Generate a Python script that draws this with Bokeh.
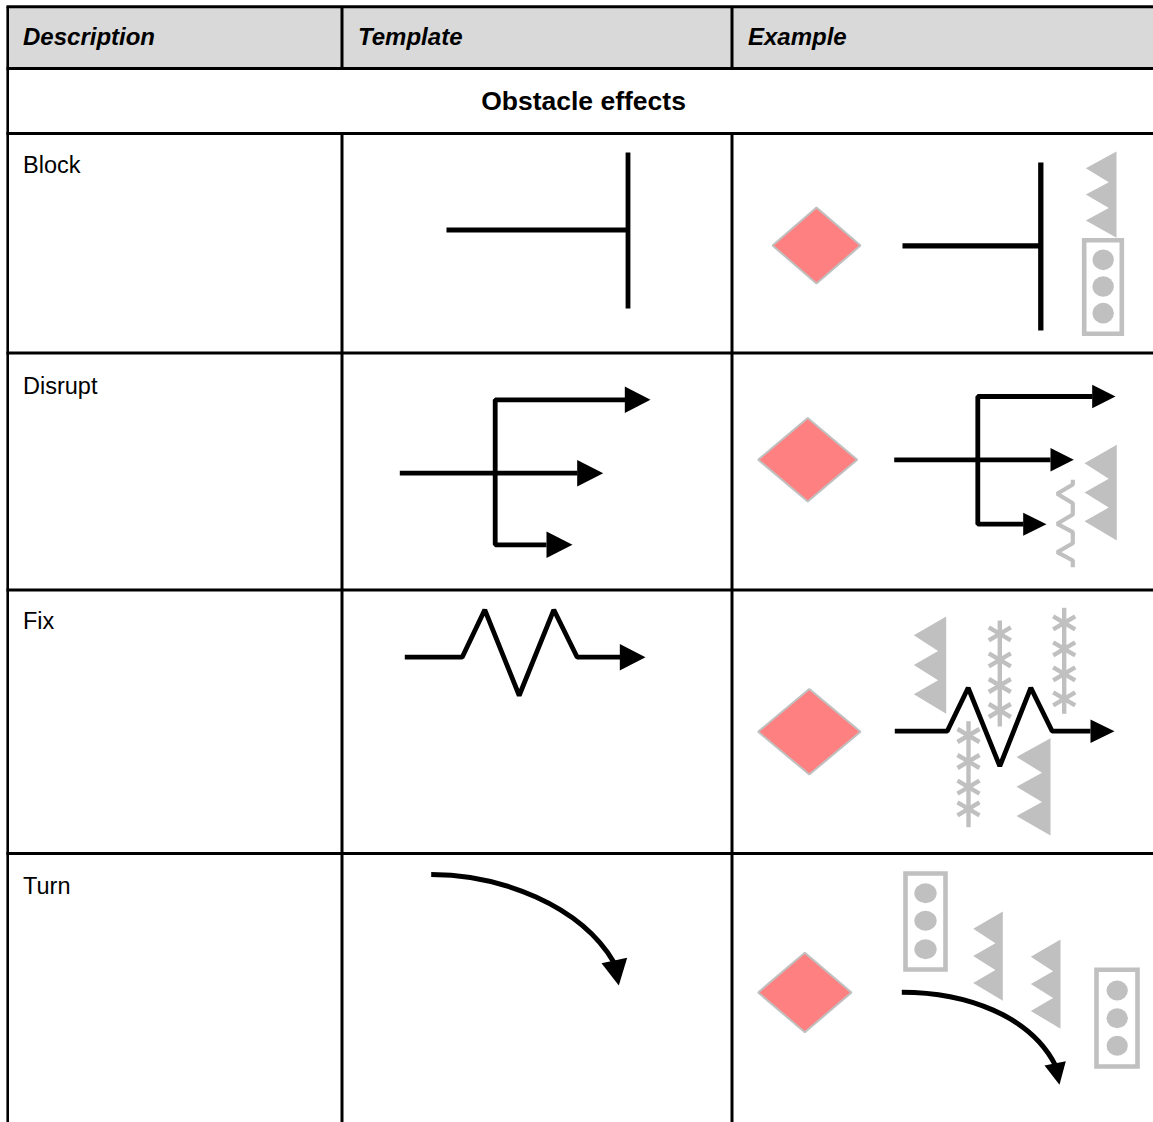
from bokeh.plotting import figure
from bokeh.models import Range1d
from bokeh.core.properties import value
from bokeh.embed import file_html
from bokeh.resources import INLINE

# ---- texts
headers = ["Description", "Template", "Example"]
header_x = [22.5, 357.5, 747.5]
section = "Obstacle effects"
rows = ["Block", "Disrupt", "Fix", "Turn"]
row_baselines = [164, 385, 620, 885]

# ---- table rules
h_rules = [6.3, 68, 133, 352.5, 589.5, 853]
col_rules = [341.5, 731.5]
left_rule = 7.2

# ---- diamonds: centre x, centre y, half width, half height
diamonds = [(816, 245, 44, 38), (807.2, 459.2, 49.5, 41.8),
            (808.8, 731.2, 51.2, 42.8), (804.3, 992, 46.7, 39.7)]

# ---- saw obstacles: left, right, top, bottom
saws = [(1085.3, 1116, 151, 237.3), (1084, 1116.3, 444.3, 540),
        (913.3, 945.7, 616, 713.3), (1016, 1050, 737.7, 835),
        (972.7, 1002.3, 911, 1000.3), (1030.3, 1060, 939, 1028.3)]
saw_x = [1, 0, 0.75, 0, 0.75, 0, 1]
saw_y = [0, 0.193, 0.355, 0.498, 0.656, 0.8, 1]

# ---- signal obstacles: left, right, top, bottom, lamp x, lamp ys, lamp w, lamp h
signals = [(1083.7, 1121.3, 239.8, 333.3, 1102.7, [259.3, 286, 312.7], 21.3, 20.7),
           (905, 945, 873, 969, 925, [892.7, 920.3, 948.7], 22.3, 20),
           (1096, 1137, 969.2, 1066, 1116.7, [990, 1017.7, 1045.3], 21.3, 20)]

# ---- asterisk columns: x, top, bottom, star centres
stars = [(999.3, 620, 726, [633.3, 659.3, 685, 710]),
         (1063.7, 607.3, 713.3, [622.3, 648.3, 673.3, 698.3]),
         (968, 720.7, 826.7, [735, 761, 786.7, 808.3])]

wave_x = [1072.3, 1072.3, 1056.7, 1072.3, 1072.3, 1056.7, 1072.3, 1072.3, 1056.7, 1072.3, 1072.3]
wave_y = [479.3, 484, 493.3, 502.7, 514, 523.3, 531.7, 542.7, 551.7, 560, 566.7]

# ---- black paths (x list, y list, width)
paths = [
    ([446, 627.5], [229.5, 229.5], 4.8),
    ([627.5, 627.5], [152, 308], 4.8),
    ([902, 1040.3], [245.3, 245.3], 5.3),
    ([1040.3, 1040.3], [162, 330], 5.3),
    ([625, 494.7, 494.7, 546], [399.3, 399.3, 544.3, 544.3], 4.8),
    ([399.3, 577], [472.7, 472.7], 4.8),
    ([1092, 977.3, 977.3, 1023], [396, 396, 523.7, 523.7], 4.8),
    ([893.7, 1050], [459.3, 459.3], 4.8),
    ([404.3, 461.7, 484.3, 518.7, 553.3, 576.7, 620], [656.7, 656.7, 609.3, 695, 609.3, 656.7, 656.7], 4.8),
    ([894.3, 946.7, 967.7, 999.3, 1030.3, 1051.7, 1090], [730.7, 730.7, 687.3, 765.7, 687.3, 730.7, 730.7], 4.8),
]
# ---- arrow heads: base x, tip x, y, half height
heads = [(624.3, 650, 399.3, 13.3), (576.7, 602.7, 472.7, 13.3), (546, 572, 544.3, 13.3),
         (619.3, 645, 656.7, 13.3), (1091.7, 1115, 396, 11.8), (1050, 1073.3, 459.3, 11.7),
         (1022.7, 1046, 523.7, 11.5), (1090, 1114, 730.7, 11.8)]
# ---- curves: x0, y0, cx0, cy0, cx1, cy1, x1, y1 and heads
curves = [(430.7, 874, 500, 874, 580, 905, 613.3, 961.7),
          (901.3, 991.7, 965, 991.7, 1030, 1015, 1055, 1065)]
curve_heads = [([601, 626.7, 618.3], [962.7, 957.3, 985]),
               ([1044, 1065.3, 1059], [1065, 1060.7, 1084.3])]

GREY = "#c0c0c0"
W, H = 1153, 1122
p = figure(width=W, height=H, output_backend="svg", toolbar_location=None,
           x_range=Range1d(0, W), y_range=Range1d(H, 0), min_border=0,
           margin=(0, 0, 0, 0))
p.axis.visible = False
p.grid.visible = False
p.outline_line_color = None

# header band
p.quad(left=[left_rule], right=[W], top=[h_rules[0]], bottom=[h_rules[1]],
       fill_color="#d9d9d9", line_color=None)

# rules
for y in h_rules:
    p.line([left_rule - 1.2, W], [y, y], line_color="black", line_width=3)
for x in col_rules:
    p.line([x, x], [h_rules[0], h_rules[1]], line_color="black", line_width=3)
    p.line([x, x], [h_rules[2], H], line_color="black", line_width=3)
p.line([left_rule, left_rule], [h_rules[0], H], line_color="black", line_width=2.6)

# obstacles
for l, r, t, b in saws:
    p.patch([l + (r - l) * f for f in saw_x], [t + (b - t) * f for f in saw_y],
            fill_color=GREY, line_color=None)
for l, r, t, b, lx, lys, lw, lh in signals:
    p.quad(left=[l], right=[r], top=[t], bottom=[b], fill_color="white", line_color=GREY, line_width=4.6,
           line_join="miter")
    p.ellipse(x=[lx] * 3, y=lys, width=lw, height=lh, fill_color=GREY, line_color=None)
for x, t, b, cs in stars:
    p.line([x, x], [t, b], line_color=GREY, line_width=4.4)
    for c in cs:
        p.line([x - 11, x + 11], [c - 6.5, c + 6.5], line_color=GREY, line_width=4.4)
        p.line([x - 11, x + 11], [c + 6.5, c - 6.5], line_color=GREY, line_width=4.4)
p.line(wave_x, wave_y, line_color=GREY, line_width=4.2)

# diamonds
for cx, cy, hw, hh in diamonds:
    p.patch([cx - hw, cx, cx + hw, cx], [cy, cy - hh, cy, cy + hh],
            fill_color="#ff8080", line_color=GREY, line_width=2)

# black paths
for xs, ys, w in paths:
    p.line(xs, ys, line_color="black", line_width=w)
for bx, tx, y, hh in heads:
    p.patch([bx, tx, bx], [y - hh, y, y + hh], fill_color="black", line_color=None)
for x0, y0, cx0, cy0, cx1, cy1, x1, y1 in curves:
    p.bezier(x0=[x0], y0=[y0], cx0=[cx0], cy0=[cy0], cx1=[cx1], cy1=[cy1], x1=[x1], y1=[y1],
             line_color="black", line_width=5)
for xs, ys in curve_heads:
    p.patch(xs, ys, fill_color="black", line_color=None)

# texts
FONT = value("Liberation Sans")
p.text(x=header_x, y=[36] * 3, text=headers, text_font=FONT, text_font_size="24px",
       text_font_style="bold italic", text_color="black", text_baseline="alphabetic")
p.text(x=[583], y=[100], text=[section], text_font=FONT, text_font_size="26.5px",
       text_font_style="bold", text_color="black", text_align="center", text_baseline="alphabetic")
p.text(x=[22.5] * 4, y=row_baselines, text=rows, text_font=FONT, text_font_size="23.5px",
       text_color="black", text_baseline="alphabetic")

open("out.html", "w").write(file_html(p, INLINE))
